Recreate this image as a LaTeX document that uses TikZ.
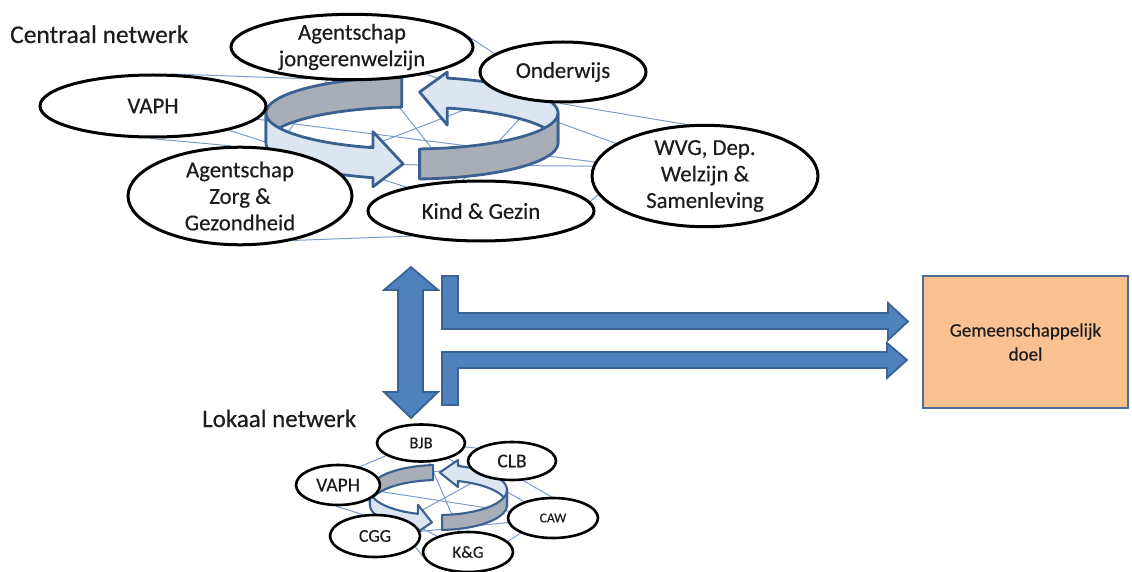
\documentclass[tikz,border=0pt]{standalone}
\usepackage{fontspec}
\setmainfont{Carlito}[FakeBold=0.35]
\usetikzlibrary{shapes.geometric}
\pgfdeclarelayer{netlayer}
\pgfdeclarelayer{ringlayer}
\pgfsetlayers{netlayer,ringlayer,main}
\definecolor{netline}{HTML}{7A9CCB}
\definecolor{ringedge}{HTML}{3B6190}
\definecolor{ringgray}{HTML}{A7AEB8}
\definecolor{ringlight}{HTML}{DCE6F2}
\definecolor{blockfill}{HTML}{4F81BD}
\definecolor{blockedge}{HTML}{3A6394}
\definecolor{goalfill}{HTML}{FAC090}
\definecolor{goaledge}{HTML}{4A6E9C}
\definecolor{txt}{HTML}{1C1C1C}
\newcommand\fsz[2]{\fontsize{#1}{#2}\selectfont}
\newcommand\cycring[1]{%
 \filldraw[fill=ringgray,draw=ringedge,line width=#1,line join=round]
   plot[domain=\rA:180,samples=40] ({\rcx+\rrx*cos(\x)},{\rcy+\rry*sin(\x)})
   -- plot[domain=180:\rA,samples=40] ({\rcx+\rrx*cos(\x)},{\rcy+\rhh+\rry*sin(\x)}) -- cycle;
 \filldraw[fill=ringlight,draw=ringedge,line width=#1,line join=round]
   plot[domain=360:\rC,samples=40] ({\rcx+\rrx*cos(\x)},{\rcy+\rry*sin(\x)})
   -- ({\rcx+\rrx*cos(\rC)},{\rcy+\rry*sin(\rC)-\rBu})
   -- ({\rcx+\rrx*cos(\rB)},{\rcy+\rhh/2+\rry*sin(\rB)})
   -- ({\rcx+\rrx*cos(\rC)},{\rcy+\rhh+\rry*sin(\rC)+\rBd})
   -- plot[domain=\rC:360,samples=40] ({\rcx+\rrx*cos(\x)},{\rcy+\rhh+\rry*sin(\x)}) -- cycle;
 \filldraw[fill=ringlight,draw=ringedge,line width=#1,line join=round]
   plot[domain=180:\rE,samples=40] ({\rcx+\rrx*cos(\x)},{\rcy+\rry*sin(\x)})
   -- ({\rcx+\rrx*cos(\rE)},{\rcy+\rry*sin(\rE)-\rFu})
   -- ({\rcx+\rrx*cos(\rD)},{\rcy+\rhh/2+\rry*sin(\rD)})
   -- ({\rcx+\rrx*cos(\rE)},{\rcy+\rhh+\rry*sin(\rE)+\rFd})
   -- plot[domain=\rE:180,samples=40] ({\rcx+\rrx*cos(\x)},{\rcy+\rhh+\rry*sin(\x)}) -- cycle;
 \filldraw[fill=ringgray,draw=ringedge,line width=#1,line join=round]
   plot[domain=\rF:0,samples=40] ({\rcx+\rrx*cos(\x)},{\rcy+\rry*sin(\x)})
   -- plot[domain=0:\rF,samples=40] ({\rcx+\rrx*cos(\x)},{\rcy+\rhh+\rry*sin(\x)}) -- cycle;
}
\tikzset{
 org/.style={ellipse, draw=black, line width=3pt, fill=white, inner sep=0pt, align=center, text=txt},
 sorg/.style={org, line width=2.6pt},
 net/.style={draw=netline, line width=1pt},
 blockarrow/.style={fill=blockfill, draw=blockedge, line width=1.8pt, line join=miter},
 goal/.style={rectangle, fill=goalfill, draw=goaledge, line width=2pt, align=center, text=txt, inner sep=0pt},
 title/.style={anchor=base west, inner sep=0pt, text=txt},
}
\begin{document}
\begin{tikzpicture}[x=1pt,y=-1pt]
\useasboundingbox (0,0) rectangle (1132,572);
% titles
\node[title,font=\fsz{25.5}{30}] (tc) at (10,43) {Centraal netwerk};
\node[title,font=\fsz{25}{30}] (tl) at (202,427) {Lokaal netwerk};
% central network
\begin{scope}[font=\fsz{22.8}{26.5}]
\path
 (352,47)  node[org,minimum width=242,minimum height=58] (jong) {Agentschap\\jongerenwelzijn}
 (563,72)  node[org,minimum width=166,minimum height=60] (ond) {Onderwijs}
 (153,106) node[org,minimum width=226,minimum height=62] (vaph) {VAPH}
 (240,196) node[org,minimum width=224,minimum height=88] (zorg) {Agentschap\\Zorg \&\\Gezondheid}
 (481,211) node[org,minimum width=226,minimum height=60] (kind) {Kind \& Gezin}
 (705,176) node[org,minimum width=226,minimum height=82] (wvg) {WVG, Dep.\\Welzijn \&\\Samenleving};
\end{scope}
% local network
\path
 (421,443) node[sorg,minimum width=88,minimum height=37,font=\fsz{16.5}{18}] (sbjb) {BJB}
 (512,461) node[sorg,minimum width=88,minimum height=38,font=\fsz{19.5}{20}] (sclb) {CLB}
 (338,485) node[sorg,minimum width=84,minimum height=40,font=\fsz{19.5}{20}] (svaph) {VAPH}
 (553,518) node[sorg,minimum width=90,minimum height=40,font=\fsz{13.5}{15}] (scaw) {CAW}
 (375,536) node[sorg,minimum width=90,minimum height=42,font=\fsz{18}{19}] (scgg) {CGG}
 (468,552) node[sorg,minimum width=90,minimum height=40,font=\fsz{17}{18}] (skg) {K\&G};
% network lines
\begin{pgfonlayer}{netlayer}
\draw[net] (jong.5) -- (ond.165);
\draw[net] (vaph.60) -- (jong.215);
\draw[net] (vaph.-95) -- (zorg.100);
\draw[net] (zorg.-40) -- (kind.-160);
\draw[net] (kind.5) -- (wvg.190);
\draw[net] (ond.-95) -- (wvg.110);
\draw[net] (vaph) -- (wvg);
\draw[net] (vaph) -- (kind);
\draw[net] (jong) -- (kind);
\draw[net] (jong) -- (wvg);
\draw[net] (zorg) -- (ond);
\draw[net] (zorg.20) -- (wvg.175);
\draw[net] (jong) -- (zorg);
\draw[net] (kind.120) -- (ond);
\draw[net] (sbjb.-5) -- (sclb.160);
\draw[net] (sbjb.200) -- (svaph.40);
\draw[net] (svaph.-95) -- (scgg.120);
\draw[net] (scgg.-15) -- (skg.185);
\draw[net] (skg.15) -- (scaw.205);
\draw[net] (sclb.-60) -- (scaw.95);
\draw[net] (svaph) -- (sclb);
\draw[net] (svaph) -- (scaw);
\draw[net] (sbjb) -- (skg);
\draw[net] (sbjb) -- (scaw);
\draw[net] (scgg) -- (sclb);
\draw[net] (scgg) -- (scaw);
\draw[net] (svaph) -- (skg);
\end{pgfonlayer}
% cycle rings
\begin{pgfonlayer}{ringlayer}
\def\rcx{412}\def\rcy{113}\def\rrx{146}\def\rry{36}\def\rhh{30}
\def\rA{266}\def\rB{273}\def\rC{284}\def\rD{93.5}\def\rE{105.5}\def\rF{87}
\def\rBu{6}\def\rBd{17}\def\rFu{16}\def\rFd{9}
\cycring{2.8pt}
\def\rcx{438.5}\def\rcy{490}\def\rrx{68.5}\def\rry{25}\def\rhh{15}
\def\rA{265.5}\def\rB{271}\def\rC{286.5}\def\rD{95.5}\def\rE{107.5}\def\rF{87}
\def\rBu{6}\def\rBd{6}\def\rFu{9}\def\rFd{3}
\cycring{2.1pt}
\end{pgfonlayer}
% goal box
\node[goal,minimum width=205,minimum height=132,font=\fsz{19}{24}] (goalbox) at (1025.5,342) {Gemeenschappelijk\\doel};
% block arrows
\draw[blockarrow] (411,267) -- (438,290) -- (423,290) -- (423,392) -- (438,392) -- (411,418) -- (384,392) -- (398,392) -- (398,290) -- (384,290) -- cycle;
\draw[blockarrow] (442,276) -- (458,276) -- (458,313) -- (888,313) -- (888,303) -- (908,321.5) -- (888,340) -- (888,329) -- (442,329) -- cycle;
\draw[blockarrow] (442,352) -- (887,352) -- (887,343) -- (907,360) -- (887,378) -- (887,368) -- (458,368) -- (458,405) -- (442,405) -- cycle;
\end{tikzpicture}
\end{document}
